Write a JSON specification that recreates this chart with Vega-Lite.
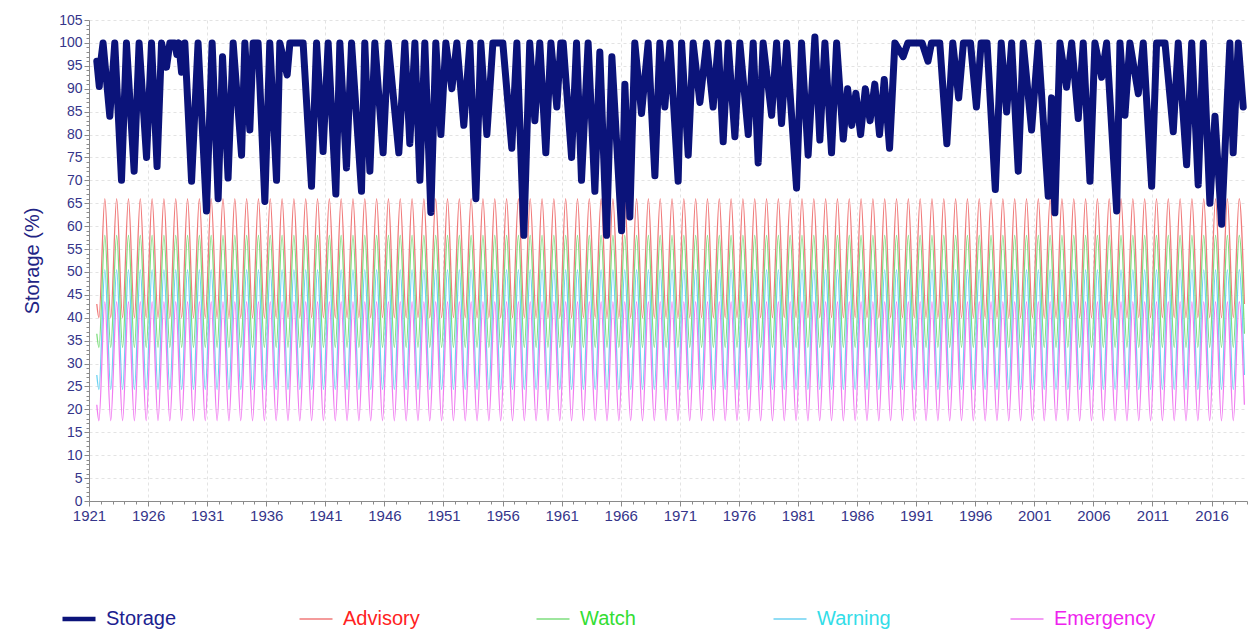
{
"$schema": "https://vega.github.io/schema/vega-lite/v6.json",
"width": 1158,
"height": 481,
"autosize": {"type": "none"},
"padding": {"left": 89, "top": 20, "right": 10, "bottom": 136},
"background": "white",
"config": {"view": {"stroke": null}, "font": "Liberation Sans"},
"datasets": {
"storage": [
{"t":1921.66,"S":96},{"t":1921.87,"S":90.5},{"t":1922.0,"S":96},{"t":1922.19,"S":100},{"t":1922.76,"S":84},{"t":1923.18,"S":100},{"t":1923.75,"S":70},{"t":1924.17,"S":100},{"t":1924.82,"S":72},{"t":1925.24,"S":100},{"t":1925.87,"S":75},{"t":1926.29,"S":100},{"t":1926.76,"S":73},{"t":1927.14,"S":100},{"t":1927.56,"S":94.7},{"t":1927.84,"S":100},{"t":1928.26,"S":100},{"t":1928.43,"S":97.5},{"t":1928.6,"S":100},{"t":1928.83,"S":93.6},{"t":1929.11,"S":100},{"t":1929.68,"S":69.8},{"t":1930.23,"S":100},{"t":1930.94,"S":63.3},{"t":1931.42,"S":100},{"t":1931.93,"S":66},{"t":1932.3,"S":97},{"t":1932.77,"S":70.5},{"t":1933.2,"S":100},{"t":1933.91,"S":75.5},{"t":1934.19,"S":100},{"t":1934.61,"S":81},{"t":1934.89,"S":100},{"t":1935.31,"S":100},{"t":1935.88,"S":65.4},{"t":1936.3,"S":100},{"t":1936.87,"S":70},{"t":1937.15,"S":100},{"t":1937.77,"S":93},{"t":1938.0,"S":100},{"t":1939.12,"S":100},{"t":1939.83,"S":68.7},{"t":1940.26,"S":100},{"t":1940.81,"S":76.3},{"t":1941.24,"S":100},{"t":1941.89,"S":67},{"t":1942.23,"S":100},{"t":1942.79,"S":72.7},{"t":1943.22,"S":100},{"t":1944.06,"S":67.6},{"t":1944.34,"S":100},{"t":1944.77,"S":72},{"t":1945.19,"S":100},{"t":1945.89,"S":76},{"t":1946.32,"S":100},{"t":1947.22,"S":76},{"t":1947.73,"S":100},{"t":1948.15,"S":78},{"t":1948.58,"S":100},{"t":1949.0,"S":70},{"t":1949.42,"S":100},{"t":1949.93,"S":63},{"t":1950.35,"S":100},{"t":1950.78,"S":80},{"t":1951.2,"S":100},{"t":1951.71,"S":90},{"t":1952.13,"S":100},{"t":1952.72,"S":82},{"t":1953.23,"S":100},{"t":1953.74,"S":66},{"t":1954.16,"S":100},{"t":1954.67,"S":80},{"t":1955.18,"S":100},{"t":1956.02,"S":100},{"t":1956.78,"S":77},{"t":1957.21,"S":100},{"t":1957.8,"S":58},{"t":1958.3,"S":100},{"t":1958.73,"S":83},{"t":1959.15,"S":100},{"t":1959.66,"S":76},{"t":1960.09,"S":100},{"t":1960.59,"S":86},{"t":1960.93,"S":100},{"t":1961.13,"S":100},{"t":1961.84,"S":75},{"t":1962.26,"S":100},{"t":1962.68,"S":70},{"t":1963.24,"S":100},{"t":1963.81,"S":67.6},{"t":1964.23,"S":98},{"t":1964.8,"S":58},{"t":1965.25,"S":97},{"t":1966.07,"S":59},{"t":1966.35,"S":91},{"t":1966.77,"S":62},{"t":1967.19,"S":100},{"t":1967.76,"S":84.6},{"t":1968.32,"S":100},{"t":1968.89,"S":71},{"t":1969.31,"S":100},{"t":1969.73,"S":86},{"t":1970.16,"S":100},{"t":1970.86,"S":69.8},{"t":1971.15,"S":100},{"t":1971.71,"S":75.5},{"t":1972.13,"S":100},{"t":1972.7,"S":87},{"t":1973.26,"S":100},{"t":1973.82,"S":86},{"t":1974.25,"S":100},{"t":1974.67,"S":78.4},{"t":1975.09,"S":100},{"t":1975.66,"S":79.5},{"t":1976.08,"S":100},{"t":1976.79,"S":80},{"t":1977.21,"S":100},{"t":1977.63,"S":73.8},{"t":1978.05,"S":100},{"t":1978.77,"S":84.2},{"t":1979.19,"S":100},{"t":1979.61,"S":82.4},{"t":1980.04,"S":100},{"t":1980.88,"S":68.3},{"t":1981.3,"S":100},{"t":1981.86,"S":75.5},{"t":1982.43,"S":101.3},{"t":1982.85,"S":78.8},{"t":1983.28,"S":100},{"t":1983.84,"S":76},{"t":1984.27,"S":100},{"t":1984.83,"S":79},{"t":1985.2,"S":90},{"t":1985.55,"S":82},{"t":1985.9,"S":89},{"t":1986.3,"S":80},{"t":1986.7,"S":90},{"t":1987.1,"S":83},{"t":1987.5,"S":91},{"t":1987.9,"S":80},{"t":1988.3,"S":92},{"t":1988.75,"S":77},{"t":1989.2,"S":100},{"t":1989.9,"S":97},{"t":1990.3,"S":100},{"t":1991.5,"S":100},{"t":1992.0,"S":96},{"t":1992.3,"S":100},{"t":1993.0,"S":100},{"t":1993.6,"S":78},{"t":1994.1,"S":100},{"t":1994.6,"S":88},{"t":1995.0,"S":100},{"t":1995.6,"S":100},{"t":1996.1,"S":86},{"t":1996.5,"S":100},{"t":1997.0,"S":100},{"t":1997.7,"S":68},{"t":1998.2,"S":100},{"t":1998.66,"S":84.9},{"t":1999.08,"S":100},{"t":1999.64,"S":72},{"t":2000.06,"S":100},{"t":2000.77,"S":81},{"t":2001.33,"S":100},{"t":2002.18,"S":66.5},{"t":2002.46,"S":88},{"t":2002.74,"S":62.9},{"t":2003.17,"S":100},{"t":2003.73,"S":90.3},{"t":2004.16,"S":100},{"t":2004.72,"S":83.5},{"t":2005.14,"S":100},{"t":2005.71,"S":69.8},{"t":2006.13,"S":100},{"t":2006.7,"S":92.5},{"t":2007.12,"S":100},{"t":2007.97,"S":63.3},{"t":2008.25,"S":100},{"t":2008.67,"S":84.2},{"t":2009.09,"S":100},{"t":2009.8,"S":88.9},{"t":2010.22,"S":100},{"t":2010.93,"S":68.7},{"t":2011.35,"S":100},{"t":2012.06,"S":100},{"t":2012.76,"S":80.6},{"t":2013.18,"S":100},{"t":2013.89,"S":73.4},{"t":2014.32,"S":100},{"t":2014.87,"S":69},{"t":2015.3,"S":100},{"t":2015.86,"S":65},{"t":2016.29,"S":84},{"t":2016.85,"S":60.4},{"t":2017.55,"S":100},{"t":2017.83,"S":76},{"t":2018.26,"S":100},{"t":2018.68,"S":86}
],
"triggers": [
{"t":1921.66,"A":43,"W":36.5,"R":27.5,"E":21},{"t":1921.84,"A":40,"W":33.5,"R":24.3,"E":17.5},
{"t":1922.34,"A":66,"W":58,"R":50.5,"E":43.5},{"t":1922.84,"A":40,"W":33.5,"R":24.3,"E":17.5},
{"t":1923.34,"A":66,"W":58,"R":50.5,"E":43.5},{"t":1923.84,"A":40,"W":33.5,"R":24.3,"E":17.5},
{"t":1924.34,"A":66,"W":58,"R":50.5,"E":43.5},{"t":1924.84,"A":40,"W":33.5,"R":24.3,"E":17.5},
{"t":1925.34,"A":66,"W":58,"R":50.5,"E":43.5},{"t":1925.84,"A":40,"W":33.5,"R":24.3,"E":17.5},
{"t":1926.34,"A":66,"W":58,"R":50.5,"E":43.5},{"t":1926.84,"A":40,"W":33.5,"R":24.3,"E":17.5},
{"t":1927.34,"A":66,"W":58,"R":50.5,"E":43.5},{"t":1927.84,"A":40,"W":33.5,"R":24.3,"E":17.5},
{"t":1928.34,"A":66,"W":58,"R":50.5,"E":43.5},{"t":1928.84,"A":40,"W":33.5,"R":24.3,"E":17.5},
{"t":1929.34,"A":66,"W":58,"R":50.5,"E":43.5},{"t":1929.84,"A":40,"W":33.5,"R":24.3,"E":17.5},
{"t":1930.34,"A":66,"W":58,"R":50.5,"E":43.5},{"t":1930.84,"A":40,"W":33.5,"R":24.3,"E":17.5},
{"t":1931.34,"A":66,"W":58,"R":50.5,"E":43.5},{"t":1931.84,"A":40,"W":33.5,"R":24.3,"E":17.5},
{"t":1932.34,"A":66,"W":58,"R":50.5,"E":43.5},{"t":1932.84,"A":40,"W":33.5,"R":24.3,"E":17.5},
{"t":1933.34,"A":66,"W":58,"R":50.5,"E":43.5},{"t":1933.84,"A":40,"W":33.5,"R":24.3,"E":17.5},
{"t":1934.34,"A":66,"W":58,"R":50.5,"E":43.5},{"t":1934.84,"A":40,"W":33.5,"R":24.3,"E":17.5},
{"t":1935.34,"A":66,"W":58,"R":50.5,"E":43.5},{"t":1935.84,"A":40,"W":33.5,"R":24.3,"E":17.5},
{"t":1936.34,"A":66,"W":58,"R":50.5,"E":43.5},{"t":1936.84,"A":40,"W":33.5,"R":24.3,"E":17.5},
{"t":1937.34,"A":66,"W":58,"R":50.5,"E":43.5},{"t":1937.84,"A":40,"W":33.5,"R":24.3,"E":17.5},
{"t":1938.34,"A":66,"W":58,"R":50.5,"E":43.5},{"t":1938.84,"A":40,"W":33.5,"R":24.3,"E":17.5},
{"t":1939.34,"A":66,"W":58,"R":50.5,"E":43.5},{"t":1939.84,"A":40,"W":33.5,"R":24.3,"E":17.5},
{"t":1940.34,"A":66,"W":58,"R":50.5,"E":43.5},{"t":1940.84,"A":40,"W":33.5,"R":24.3,"E":17.5},
{"t":1941.34,"A":66,"W":58,"R":50.5,"E":43.5},{"t":1941.84,"A":40,"W":33.5,"R":24.3,"E":17.5},
{"t":1942.34,"A":66,"W":58,"R":50.5,"E":43.5},{"t":1942.84,"A":40,"W":33.5,"R":24.3,"E":17.5},
{"t":1943.34,"A":66,"W":58,"R":50.5,"E":43.5},{"t":1943.84,"A":40,"W":33.5,"R":24.3,"E":17.5},
{"t":1944.34,"A":66,"W":58,"R":50.5,"E":43.5},{"t":1944.84,"A":40,"W":33.5,"R":24.3,"E":17.5},
{"t":1945.34,"A":66,"W":58,"R":50.5,"E":43.5},{"t":1945.84,"A":40,"W":33.5,"R":24.3,"E":17.5},
{"t":1946.34,"A":66,"W":58,"R":50.5,"E":43.5},{"t":1946.84,"A":40,"W":33.5,"R":24.3,"E":17.5},
{"t":1947.34,"A":66,"W":58,"R":50.5,"E":43.5},{"t":1947.84,"A":40,"W":33.5,"R":24.3,"E":17.5},
{"t":1948.34,"A":66,"W":58,"R":50.5,"E":43.5},{"t":1948.84,"A":40,"W":33.5,"R":24.3,"E":17.5},
{"t":1949.34,"A":66,"W":58,"R":50.5,"E":43.5},{"t":1949.84,"A":40,"W":33.5,"R":24.3,"E":17.5},
{"t":1950.34,"A":66,"W":58,"R":50.5,"E":43.5},{"t":1950.84,"A":40,"W":33.5,"R":24.3,"E":17.5},
{"t":1951.34,"A":66,"W":58,"R":50.5,"E":43.5},{"t":1951.84,"A":40,"W":33.5,"R":24.3,"E":17.5},
{"t":1952.34,"A":66,"W":58,"R":50.5,"E":43.5},{"t":1952.84,"A":40,"W":33.5,"R":24.3,"E":17.5},
{"t":1953.34,"A":66,"W":58,"R":50.5,"E":43.5},{"t":1953.84,"A":40,"W":33.5,"R":24.3,"E":17.5},
{"t":1954.34,"A":66,"W":58,"R":50.5,"E":43.5},{"t":1954.84,"A":40,"W":33.5,"R":24.3,"E":17.5},
{"t":1955.34,"A":66,"W":58,"R":50.5,"E":43.5},{"t":1955.84,"A":40,"W":33.5,"R":24.3,"E":17.5},
{"t":1956.34,"A":66,"W":58,"R":50.5,"E":43.5},{"t":1956.84,"A":40,"W":33.5,"R":24.3,"E":17.5},
{"t":1957.34,"A":66,"W":58,"R":50.5,"E":43.5},{"t":1957.84,"A":40,"W":33.5,"R":24.3,"E":17.5},
{"t":1958.34,"A":66,"W":58,"R":50.5,"E":43.5},{"t":1958.84,"A":40,"W":33.5,"R":24.3,"E":17.5},
{"t":1959.34,"A":66,"W":58,"R":50.5,"E":43.5},{"t":1959.84,"A":40,"W":33.5,"R":24.3,"E":17.5},
{"t":1960.34,"A":66,"W":58,"R":50.5,"E":43.5},{"t":1960.84,"A":40,"W":33.5,"R":24.3,"E":17.5},
{"t":1961.34,"A":66,"W":58,"R":50.5,"E":43.5},{"t":1961.84,"A":40,"W":33.5,"R":24.3,"E":17.5},
{"t":1962.34,"A":66,"W":58,"R":50.5,"E":43.5},{"t":1962.84,"A":40,"W":33.5,"R":24.3,"E":17.5},
{"t":1963.34,"A":66,"W":58,"R":50.5,"E":43.5},{"t":1963.84,"A":40,"W":33.5,"R":24.3,"E":17.5},
{"t":1964.34,"A":66,"W":58,"R":50.5,"E":43.5},{"t":1964.84,"A":40,"W":33.5,"R":24.3,"E":17.5},
{"t":1965.34,"A":66,"W":58,"R":50.5,"E":43.5},{"t":1965.84,"A":40,"W":33.5,"R":24.3,"E":17.5},
{"t":1966.34,"A":66,"W":58,"R":50.5,"E":43.5},{"t":1966.84,"A":40,"W":33.5,"R":24.3,"E":17.5},
{"t":1967.34,"A":66,"W":58,"R":50.5,"E":43.5},{"t":1967.84,"A":40,"W":33.5,"R":24.3,"E":17.5},
{"t":1968.34,"A":66,"W":58,"R":50.5,"E":43.5},{"t":1968.84,"A":40,"W":33.5,"R":24.3,"E":17.5},
{"t":1969.34,"A":66,"W":58,"R":50.5,"E":43.5},{"t":1969.84,"A":40,"W":33.5,"R":24.3,"E":17.5},
{"t":1970.34,"A":66,"W":58,"R":50.5,"E":43.5},{"t":1970.84,"A":40,"W":33.5,"R":24.3,"E":17.5},
{"t":1971.34,"A":66,"W":58,"R":50.5,"E":43.5},{"t":1971.84,"A":40,"W":33.5,"R":24.3,"E":17.5},
{"t":1972.34,"A":66,"W":58,"R":50.5,"E":43.5},{"t":1972.84,"A":40,"W":33.5,"R":24.3,"E":17.5},
{"t":1973.34,"A":66,"W":58,"R":50.5,"E":43.5},{"t":1973.84,"A":40,"W":33.5,"R":24.3,"E":17.5},
{"t":1974.34,"A":66,"W":58,"R":50.5,"E":43.5},{"t":1974.84,"A":40,"W":33.5,"R":24.3,"E":17.5},
{"t":1975.34,"A":66,"W":58,"R":50.5,"E":43.5},{"t":1975.84,"A":40,"W":33.5,"R":24.3,"E":17.5},
{"t":1976.34,"A":66,"W":58,"R":50.5,"E":43.5},{"t":1976.84,"A":40,"W":33.5,"R":24.3,"E":17.5},
{"t":1977.34,"A":66,"W":58,"R":50.5,"E":43.5},{"t":1977.84,"A":40,"W":33.5,"R":24.3,"E":17.5},
{"t":1978.34,"A":66,"W":58,"R":50.5,"E":43.5},{"t":1978.84,"A":40,"W":33.5,"R":24.3,"E":17.5},
{"t":1979.34,"A":66,"W":58,"R":50.5,"E":43.5},{"t":1979.84,"A":40,"W":33.5,"R":24.3,"E":17.5},
{"t":1980.34,"A":66,"W":58,"R":50.5,"E":43.5},{"t":1980.84,"A":40,"W":33.5,"R":24.3,"E":17.5},
{"t":1981.34,"A":66,"W":58,"R":50.5,"E":43.5},{"t":1981.84,"A":40,"W":33.5,"R":24.3,"E":17.5},
{"t":1982.34,"A":66,"W":58,"R":50.5,"E":43.5},{"t":1982.84,"A":40,"W":33.5,"R":24.3,"E":17.5},
{"t":1983.34,"A":66,"W":58,"R":50.5,"E":43.5},{"t":1983.84,"A":40,"W":33.5,"R":24.3,"E":17.5},
{"t":1984.34,"A":66,"W":58,"R":50.5,"E":43.5},{"t":1984.84,"A":40,"W":33.5,"R":24.3,"E":17.5},
{"t":1985.34,"A":66,"W":58,"R":50.5,"E":43.5},{"t":1985.84,"A":40,"W":33.5,"R":24.3,"E":17.5},
{"t":1986.34,"A":66,"W":58,"R":50.5,"E":43.5},{"t":1986.84,"A":40,"W":33.5,"R":24.3,"E":17.5},
{"t":1987.34,"A":66,"W":58,"R":50.5,"E":43.5},{"t":1987.84,"A":40,"W":33.5,"R":24.3,"E":17.5},
{"t":1988.34,"A":66,"W":58,"R":50.5,"E":43.5},{"t":1988.84,"A":40,"W":33.5,"R":24.3,"E":17.5},
{"t":1989.34,"A":66,"W":58,"R":50.5,"E":43.5},{"t":1989.84,"A":40,"W":33.5,"R":24.3,"E":17.5},
{"t":1990.34,"A":66,"W":58,"R":50.5,"E":43.5},{"t":1990.84,"A":40,"W":33.5,"R":24.3,"E":17.5},
{"t":1991.34,"A":66,"W":58,"R":50.5,"E":43.5},{"t":1991.84,"A":40,"W":33.5,"R":24.3,"E":17.5},
{"t":1992.34,"A":66,"W":58,"R":50.5,"E":43.5},{"t":1992.84,"A":40,"W":33.5,"R":24.3,"E":17.5},
{"t":1993.34,"A":66,"W":58,"R":50.5,"E":43.5},{"t":1993.84,"A":40,"W":33.5,"R":24.3,"E":17.5},
{"t":1994.34,"A":66,"W":58,"R":50.5,"E":43.5},{"t":1994.84,"A":40,"W":33.5,"R":24.3,"E":17.5},
{"t":1995.34,"A":66,"W":58,"R":50.5,"E":43.5},{"t":1995.84,"A":40,"W":33.5,"R":24.3,"E":17.5},
{"t":1996.34,"A":66,"W":58,"R":50.5,"E":43.5},{"t":1996.84,"A":40,"W":33.5,"R":24.3,"E":17.5},
{"t":1997.34,"A":66,"W":58,"R":50.5,"E":43.5},{"t":1997.84,"A":40,"W":33.5,"R":24.3,"E":17.5},
{"t":1998.34,"A":66,"W":58,"R":50.5,"E":43.5},{"t":1998.84,"A":40,"W":33.5,"R":24.3,"E":17.5},
{"t":1999.34,"A":66,"W":58,"R":50.5,"E":43.5},{"t":1999.84,"A":40,"W":33.5,"R":24.3,"E":17.5},
{"t":2000.34,"A":66,"W":58,"R":50.5,"E":43.5},{"t":2000.84,"A":40,"W":33.5,"R":24.3,"E":17.5},
{"t":2001.34,"A":66,"W":58,"R":50.5,"E":43.5},{"t":2001.84,"A":40,"W":33.5,"R":24.3,"E":17.5},
{"t":2002.34,"A":66,"W":58,"R":50.5,"E":43.5},{"t":2002.84,"A":40,"W":33.5,"R":24.3,"E":17.5},
{"t":2003.34,"A":66,"W":58,"R":50.5,"E":43.5},{"t":2003.84,"A":40,"W":33.5,"R":24.3,"E":17.5},
{"t":2004.34,"A":66,"W":58,"R":50.5,"E":43.5},{"t":2004.84,"A":40,"W":33.5,"R":24.3,"E":17.5},
{"t":2005.34,"A":66,"W":58,"R":50.5,"E":43.5},{"t":2005.84,"A":40,"W":33.5,"R":24.3,"E":17.5},
{"t":2006.34,"A":66,"W":58,"R":50.5,"E":43.5},{"t":2006.84,"A":40,"W":33.5,"R":24.3,"E":17.5},
{"t":2007.34,"A":66,"W":58,"R":50.5,"E":43.5},{"t":2007.84,"A":40,"W":33.5,"R":24.3,"E":17.5},
{"t":2008.34,"A":66,"W":58,"R":50.5,"E":43.5},{"t":2008.84,"A":40,"W":33.5,"R":24.3,"E":17.5},
{"t":2009.34,"A":66,"W":58,"R":50.5,"E":43.5},{"t":2009.84,"A":40,"W":33.5,"R":24.3,"E":17.5},
{"t":2010.34,"A":66,"W":58,"R":50.5,"E":43.5},{"t":2010.84,"A":40,"W":33.5,"R":24.3,"E":17.5},
{"t":2011.34,"A":66,"W":58,"R":50.5,"E":43.5},{"t":2011.84,"A":40,"W":33.5,"R":24.3,"E":17.5},
{"t":2012.34,"A":66,"W":58,"R":50.5,"E":43.5},{"t":2012.84,"A":40,"W":33.5,"R":24.3,"E":17.5},
{"t":2013.34,"A":66,"W":58,"R":50.5,"E":43.5},{"t":2013.84,"A":40,"W":33.5,"R":24.3,"E":17.5},
{"t":2014.34,"A":66,"W":58,"R":50.5,"E":43.5},{"t":2014.84,"A":40,"W":33.5,"R":24.3,"E":17.5},
{"t":2015.34,"A":66,"W":58,"R":50.5,"E":43.5},{"t":2015.84,"A":40,"W":33.5,"R":24.3,"E":17.5},
{"t":2016.34,"A":66,"W":58,"R":50.5,"E":43.5},{"t":2016.84,"A":40,"W":33.5,"R":24.3,"E":17.5},
{"t":2017.34,"A":66,"W":58,"R":50.5,"E":43.5},{"t":2017.84,"A":40,"W":33.5,"R":24.3,"E":17.5},
{"t":2018.34,"A":66,"W":58,"R":50.5,"E":43.5},{"t":2018.78,"A":43,"W":36.5,"R":27.5,"E":21}
]
},
"encoding": {
"x": {"field": "t", "type": "quantitative", "scale": {"domain": [1921, 2019], "nice": false, "zero": false},
 "axis": {"title": null, "format": "d",
  "values": [1921,1922,1923,1924,1925,1926,1927,1928,1929,1930,1931,1932,1933,1934,1935,1936,1937,1938,1939,1940,1941,1942,1943,1944,1945,1946,1947,1948,1949,1950,1951,1952,1953,1954,1955,1956,1957,1958,1959,1960,1961,1962,1963,1964,1965,1966,1967,1968,1969,1970,1971,1972,1973,1974,1975,1976,1977,1978,1979,1980,1981,1982,1983,1984,1985,1986,1987,1988,1989,1990,1991,1992,1993,1994,1995,1996,1997,1998,1999,2000,2001,2002,2003,2004,2005,2006,2007,2008,2009,2010,2011,2012,2013,2014,2015,2016,2017,2018,2019],
  "labelExpr": "datum.value % 5 === 1 ? datum.label : ''",
  "labelOverlap": false, "labelFlush": false, "labelFontSize": 15, "labelColor": "#35358a", "labelPadding": 2,
  "grid": true, "gridColor": {"condition": {"test": "datum.value % 5 === 1", "value": "#e3e3e3"}, "value": "rgba(255,255,255,0)"}, "gridDash": [3, 3],
  "tickSize": {"condition": {"test": "datum.value % 5 === 1", "value": 5}, "value": 3},
  "tickColor": "#8a8a8a", "domainColor": "#8a8a8a"}},
"y": {"field": "v", "type": "quantitative", "scale": {"domain": [0, 105], "nice": false},
 "axis": {"title": "Storage (%)", "titleFontSize": 20, "titleFontWeight": "normal", "titleColor": "#1f2585", "titlePadding": 16,
  "values": [0,1,2,3,4,5,6,7,8,9,10,11,12,13,14,15,16,17,18,19,20,21,22,23,24,25,26,27,28,29,30,31,32,33,34,35,36,37,38,39,40,41,42,43,44,45,46,47,48,49,50,51,52,53,54,55,56,57,58,59,60,61,62,63,64,65,66,67,68,69,70,71,72,73,74,75,76,77,78,79,80,81,82,83,84,85,86,87,88,89,90,91,92,93,94,95,96,97,98,99,100,101,102,103,104,105],
  "labelExpr": "datum.value % 5 === 0 ? datum.label : ''",
  "labelOverlap": false, "labelFlush": false, "labelFontSize": 14, "labelColor": "#35358a", "labelPadding": 2,
  "grid": true, "gridColor": {"condition": {"test": "datum.value % 5 === 0", "value": "#e3e3e3"}, "value": "rgba(255,255,255,0)"}, "gridDash": [3, 3],
  "tickSize": {"condition": {"test": "datum.value % 5 === 0", "value": 5}, "value": 3},
  "tickColor": "#8a8a8a", "domainColor": "#8a8a8a"}},
"color": {"field": "k", "type": "nominal",
 "scale": {"domain": ["S", "A", "W", "R", "E"], "range": ["#0b137a", "#f07a7a", "#7ede7e", "#6cd2f2", "#f07cf0"]},
 "legend": {"title": null, "orient": "none", "legendX": -20, "legendY": 589, "direction": "horizontal", "columns": 5,
  "symbolType": "stroke", "symbolSize": 1089, "symbolStrokeWidth": 1.5,
  "labelFontSize": 20, "labelFont": "Liberation Sans", "labelOffset": 17, "labelLimit": 300,
  "gridAlign": "all", "columnPadding": 88,
  "labelExpr": "datum.label == 'S' ? 'Storage' : datum.label == 'A' ? 'Advisory' : datum.label == 'W' ? 'Watch' : datum.label == 'R' ? 'Warning' : 'Emergency'",
  "encode": {
   "labels": {"update": {"fill": {"signal": "datum.value == 'S' ? '#1b2190' : datum.value == 'A' ? '#ff2222' : datum.value == 'W' ? '#33dd33' : datum.value == 'R' ? '#33dde8' : '#ee22ee'"}}},
   "symbols": {"update": {"strokeWidth": {"signal": "datum.value == 'S' ? 4.5 : 1.5"}}}
  }}}
},
"layer": [
 {"data": {"name": "triggers"},
  "transform": [{"fold": ["A", "W", "R", "E"], "as": ["k", "v"]}],
  "mark": {"type": "line", "interpolate": "monotone", "strokeWidth": 1.3}},
 {"data": {"name": "storage"},
  "transform": [{"fold": ["S"], "as": ["k", "v"]}],
  "mark": {"type": "line", "strokeWidth": 7, "strokeJoin": "round", "strokeCap": "round"}}
]
}
